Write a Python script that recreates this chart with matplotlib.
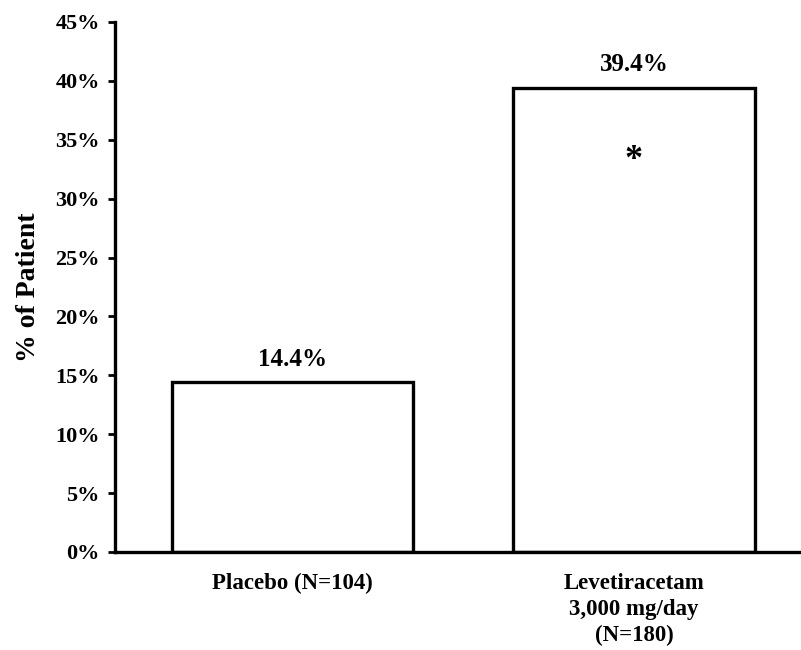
import matplotlib
matplotlib.use("Agg")
from matplotlib import pyplot as plt
from matplotlib.ticker import FuncFormatter

categories = ["Placebo (N=104)", "Levetiracetam\n3,000 mg/day\n(N=180)"]
values = [14.4, 39.4]
value_labels = ["14.4%", "39.4%"]
yticks = [0, 5, 10, 15, 20, 25, 30, 35, 40, 45]

plt.rcParams['font.family'] = ['Liberation Serif', 'DejaVu Serif']
plt.rcParams['font.weight'] = 'bold'

fig = plt.figure(figsize=(8.01, 6.5), dpi=100)
ax = fig.add_axes([0.1436, 0.1508, 0.8564, 0.8154])

x = [0, 1]
ax.bar(x, values, width=0.707, color="white", edgecolor="black", linewidth=2.4)

for xi, v, lab in zip(x, values, value_labels):
    ax.text(xi, v + 1.0, lab, ha="center", va="bottom", fontsize=18, fontweight="bold")

ax.text(1, 33.2, "*", ha="center", va="center", fontsize=26, fontweight="bold")

ax.set_xlim(-0.52, 1.489)
ax.set_ylim(0, 45)
ax.set_yticks(yticks)
ax.yaxis.set_major_formatter(FuncFormatter(lambda v, p: f"{int(v)}%"))
ax.set_xticks(x)
ax.set_xticklabels(categories, fontsize=16.5, fontweight="bold", va="top", linespacing=1.3)
ax.tick_params(axis="x", length=0, pad=15)
ax.tick_params(axis="y", direction="out", length=5, width=2, labelsize=16, pad=6)

for side in ["top", "right"]:
    ax.spines[side].set_visible(False)
for side in ["left", "bottom"]:
    ax.spines[side].set_linewidth(2.4)

ax.set_ylabel("% of Patient", fontsize=20, fontweight="bold", labelpad=10)

fig.savefig("out.png", dpi=100)
